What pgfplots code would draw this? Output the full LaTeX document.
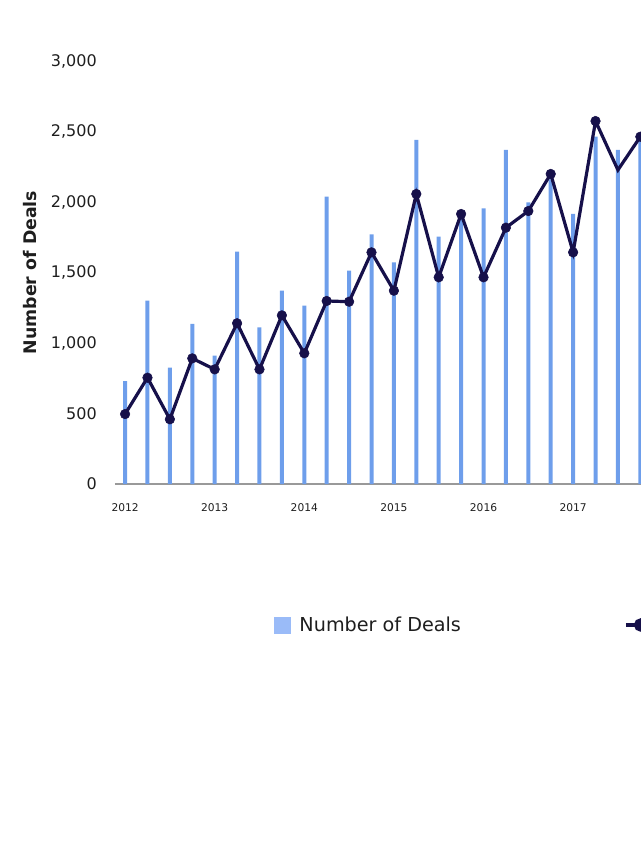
\documentclass[border=0pt]{standalone}
\usepackage{pgfplots}
\pgfplotsset{compat=1.18}
\usepackage{fontspec}
\setmainfont{DejaVu Sans}
\definecolor{barblue}{HTML}{6E9EEB}
\definecolor{legblue}{HTML}{9ABBF8}
\definecolor{navy}{HTML}{16104A}
\definecolor{txt}{HTML}{1E1E1E}
\begin{document}
\begin{tikzpicture}
\useasboundingbox (-86.25pt,-276.75pt) rectangle (393.75pt,363pt);
\begin{axis}[
  at={(0pt,0pt)}, anchor=south west,
  scale only axis, width=410.8pt, height=317.25pt,
  xmin=-0.45, xmax=24, ymin=0, ymax=3000,
  axis lines*=left,
  y axis line style={draw=none},
  x axis line style={draw=gray!80, line width=0.8pt},
  major tick length=0pt,
  xtick={0,4,8,12,16,20},
  xticklabels={2012,2013,2014,2015,2016,2017},
  ytick={0,500,1000,1500,2000,2500,3000},
  yticklabel style={/pgf/number format/1000 sep={,}, /pgf/number format/assume math mode=true, anchor=east, inner sep=0pt, xshift=-13.5pt, font=\fontsize{12}{14}\selectfont, text=txt},
  xticklabel style={anchor=north, inner sep=0pt, yshift=-14.25pt, font=\fontsize{8}{10}\selectfont, text=txt},
  ylabel={Number of Deals},
  ylabel style={at={(axis description cs:-0.1552,0.5)}, anchor=center, font=\bfseries\fontsize{13}{15}\selectfont, text=txt},
  clip=false,
  legend columns=2,
  legend style={at={(axis description cs:0.2903,-0.3333)}, anchor=west, draw=none, fill=none, inner sep=0pt,
    font=\fontsize{14.4}{17}\selectfont, text=txt,
    nodes={inner xsep=6.5pt},
    /tikz/every even column/.append style={column sep=116pt}},
]
\addplot[ybar, bar width=3pt, fill=barblue, draw=none, forget plot] coordinates {
(0,730) (1,1300) (2,825) (3,1135) (4,910) (5,1648) (6,1111) (7,1371)
(8,1265) (9,2038) (10,1513) (11,1771) (12,1572) (13,2440) (14,1754) (15,1880)
(16,1955) (17,2369) (18,1998) (19,2160) (20,1915) (21,2463) (22,2369) (23,2450)
};
\addlegendimage{legend image code/.code={\fill[legblue] (0pt,-6pt) rectangle (12pt,6pt);}}
\addlegendentry{Number of Deals}
\addplot[navy, line width=2.4pt, mark=*, mark size=3.6pt, mark options={solid, fill=navy, line width=0.4pt},
  mark indices={1,2,3,4,5,6,7,8,9,10,11,12,13,14,15,16,17,18,19,20,21,22,24},
  legend image code/.code={\draw[navy, line width=2.4pt] (0pt,0pt) -- (20pt,0pt); \fill[navy] (11pt,0pt) circle (3.8pt);}] coordinates {
(0,496) (1,754) (2,459) (3,891) (4,813) (5,1140) (6,813) (7,1196)
(8,927) (9,1298) (10,1293) (11,1643) (12,1371) (13,2057) (14,1466) (15,1915)
(16,1466) (17,1818) (18,1936) (19,2199) (20,1643) (21,2574) (22,2227) (23,2463)
};
\addlegendentry{}
\end{axis}
\end{tikzpicture}
\end{document}
